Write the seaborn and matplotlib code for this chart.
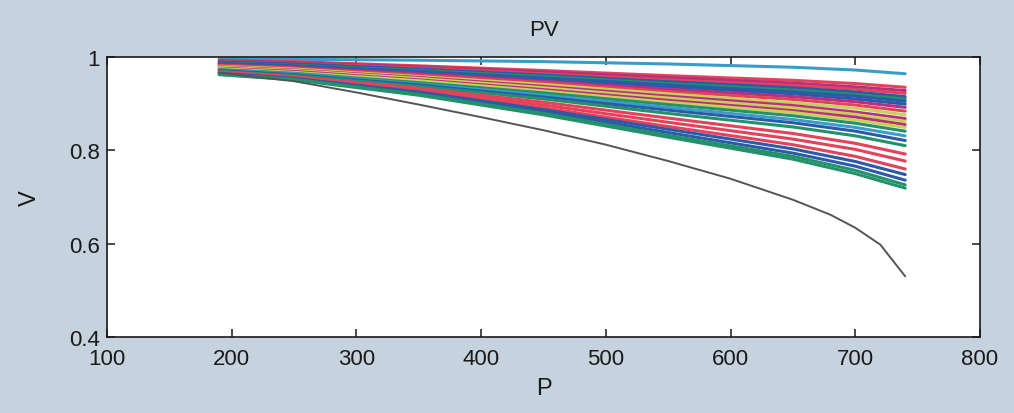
import numpy as np
import pandas as pd
import matplotlib
matplotlib.use("Agg")
import matplotlib.pyplot as plt
import seaborn as sns

# ---- data ----
P_grid = [190, 250, 350, 450, 550, 650, 700, 740]

curve_top = [0.996, 0.995, 0.993, 0.990, 0.985, 0.978, 0.972, 0.964]
c01 = [0.993, 0.990, 0.981, 0.971, 0.960, 0.950, 0.943, 0.935]
c02 = [0.992, 0.988, 0.979, 0.968, 0.956, 0.944, 0.936, 0.928]
c03 = [0.990, 0.986, 0.976, 0.964, 0.951, 0.939, 0.931, 0.922]
c04 = [0.989, 0.985, 0.974, 0.961, 0.947, 0.934, 0.925, 0.915]
c05 = [0.987, 0.982, 0.971, 0.958, 0.943, 0.929, 0.920, 0.910]
c06 = [0.986, 0.981, 0.969, 0.955, 0.940, 0.925, 0.916, 0.905]
c07 = [0.985, 0.980, 0.967, 0.952, 0.936, 0.921, 0.910, 0.899]
c08 = [0.983, 0.978, 0.964, 0.948, 0.931, 0.915, 0.904, 0.892]
c09 = [0.982, 0.976, 0.961, 0.945, 0.926, 0.909, 0.897, 0.884]
c10 = [0.980, 0.974, 0.958, 0.941, 0.921, 0.902, 0.890, 0.876]
c11 = [0.979, 0.972, 0.956, 0.937, 0.916, 0.896, 0.882, 0.868]
c12 = [0.978, 0.971, 0.954, 0.934, 0.912, 0.891, 0.877, 0.862]
c13 = [0.976, 0.969, 0.951, 0.930, 0.907, 0.885, 0.871, 0.855]
c14 = [0.975, 0.967, 0.949, 0.927, 0.903, 0.881, 0.865, 0.849]
c15 = [0.973, 0.965, 0.945, 0.923, 0.898, 0.874, 0.858, 0.841]
c16 = [0.972, 0.964, 0.942, 0.918, 0.892, 0.866, 0.849, 0.831]
c17 = [0.971, 0.962, 0.940, 0.914, 0.886, 0.859, 0.841, 0.821]
c18 = [0.969, 0.960, 0.937, 0.910, 0.879, 0.850, 0.831, 0.810]
c19 = [0.968, 0.958, 0.933, 0.903, 0.869, 0.836, 0.815, 0.792]
c20 = [0.967, 0.957, 0.930, 0.897, 0.860, 0.824, 0.802, 0.777]
c21 = [0.966, 0.955, 0.927, 0.891, 0.851, 0.812, 0.787, 0.760]
c22 = [0.965, 0.954, 0.925, 0.887, 0.845, 0.803, 0.776, 0.748]
c23 = [0.964, 0.953, 0.922, 0.883, 0.838, 0.794, 0.766, 0.736]
c24 = [0.963, 0.952, 0.920, 0.879, 0.832, 0.787, 0.757, 0.726]
c25 = [0.962, 0.951, 0.918, 0.876, 0.828, 0.781, 0.750, 0.719]

P_black = [190, 250, 300, 350, 400, 450, 500, 550, 600, 650, 680, 700, 720, 740]
V_black = [0.966, 0.948, 0.924, 0.898, 0.871, 0.843, 0.812, 0.777, 0.739, 0.694, 0.662, 0.634, 0.598, 0.530]

RED, BLUE, GREEN = "#e2435a", "#2a5aa8", "#23916a"
MAG, OLIVE, CYAN, GRAY = "#b5307f", "#c9cf5a", "#3a9cc8", "#555555"

series = [
    ("top", curve_top, CYAN), ("c01", c01, RED), ("c02", c02, MAG), ("c03", c03, RED),
    ("c04", c04, BLUE), ("c05", c05, GREEN), ("c06", c06, BLUE), ("c07", c07, BLUE),
    ("c08", c08, MAG), ("c09", c09, RED), ("c10", c10, OLIVE), ("c11", c11, MAG),
    ("c12", c12, OLIVE), ("c13", c13, MAG), ("c14", c14, OLIVE), ("c15", c15, GREEN),
    ("c16", c16, CYAN), ("c17", c17, BLUE), ("c18", c18, GREEN), ("c19", c19, RED),
    ("c20", c20, RED), ("c21", c21, RED), ("c22", c22, BLUE), ("c23", c23, BLUE),
    ("c24", c24, GREEN), ("c25", c25, GREEN),
]

rows = []
for name, vals, _ in series:
    for p, v in zip(P_grid, vals):
        rows.append({"curve": name, "P": p, "V": v})
for p, v in zip(P_black, V_black):
    rows.append({"curve": "black", "P": p, "V": v})
df = pd.DataFrame(rows)
palette = {name: col for name, _, col in series}
palette["black"] = GRAY

# ---- figure ----
sns.set_style("ticks")
plt.rcParams["font.family"] = ["Liberation Sans", "DejaVu Sans"]
bg = "#c6d2dd"
fig = plt.figure(figsize=(10.14, 4.14), dpi=100, facecolor=bg)
ax = fig.add_axes([0.1055, 0.1836, 0.861, 0.6764])
ax.set_facecolor("white")

sns.lineplot(data=df, x="P", y="V", hue="curve", palette=palette,
             hue_order=[s[0] for s in series] + ["black"],
             estimator=None, sort=False, legend=False, linewidth=2.2, ax=ax)
for line in ax.get_lines():
    if matplotlib.colors.to_hex(line.get_color()) == GRAY:
        line.set_linewidth(1.4)

ax.set_xlim(100, 800)
ax.set_ylim(0.4, 1.0)
ax.set_xticks([100, 200, 300, 400, 500, 600, 700, 800])
ax.set_yticks([0.4, 0.6, 0.8, 1.0])
ax.set_yticklabels(["0.4", "0.6", "0.8", "1"])
for s in ax.spines.values():
    s.set_visible(True)
    s.set_color("#1a1a1a")
    s.set_linewidth(1.2)
ax.tick_params(direction="in", length=6, width=1.1, top=True, right=True,
               labelsize=16, colors="#1a1a1a")
ax.tick_params(axis="x", pad=8)
ax.tick_params(axis="y", pad=5)
ax.set_xlabel("P", fontsize=17, color="#1a1a1a", labelpad=6)
ax.set_ylabel("V", fontsize=17, color="#1a1a1a", labelpad=20)
ax.set_title("PV", fontsize=16, color="#1a1a1a", pad=16)

fig.savefig("out.png", dpi=100, facecolor=bg)
